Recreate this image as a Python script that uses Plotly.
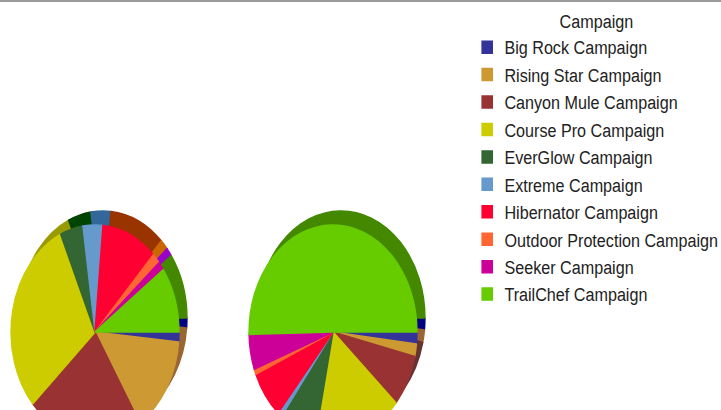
import plotly.graph_objects as go

# ---- data ----
campaigns = ["Big Rock Campaign", "Rising Star Campaign", "Canyon Mule Campaign",
             "Course Pro Campaign", "EverGlow Campaign", "Extreme Campaign",
             "Hibernator Campaign", "Outdoor Protection Campaign", "Seeker Campaign",
             "TrailChef Campaign"]
left_values = [1.5, 14.6, 22.2, 30.0, 4.4, 3.8, 10.7, 1.6, 1.3, 9.9]
right_values = [1.8, 1.9, 7.8, 16.8, 7.2, 0.8, 7.2, 0.8, 5.3, 50.3]

# ---- styles ----
face_colors = ["#333399", "#CC9933", "#993333", "#CCCC00", "#336633",
               "#6699CC", "#FF0033", "#FF6633", "#CC0099", "#66CC00"]
side_colors = ["#000080", "#996633", "#663333", "#999900", "#004400",
               "#336699", "#993300", "#CC6600", "#9900CC", "#448800"]

W, H = 721, 460
R0 = 95          # base circle radius in px (before elliptical scaling)
SX, SY = 84 / R0, 107 / R0
DEPTH_X, DEPTH_Y = 8, -14
NARROW = 0.86    # horizontal condensing of the legend (narrow typeface look)
FONT = "Liberation Sans, Arial, sans-serif"


def dom(cx, cy):
    x = [(cx - R0) / W, (cx + R0) / W]
    y = [(H - (cy + R0)) / H, (H - (cy - R0)) / H]
    return dict(x=x, y=y)


def pie(values, colors, cx, cy, show):
    return go.Pie(labels=campaigns, values=values, sort=False, direction="clockwise",
                  rotation=90, textinfo="none", hoverinfo="label+percent",
                  marker=dict(colors=colors, line=dict(width=1.5, color=colors)),
                  domain=dom(cx, cy), showlegend=show)


fig = go.Figure()
fig.add_trace(pie(left_values, side_colors, 95 + DEPTH_X, 332 + DEPTH_Y, False))
fig.add_trace(pie(right_values, side_colors, 333 + DEPTH_X, 332 + DEPTH_Y, False))
fig.add_trace(pie(left_values, face_colors, 95, 332, True))
fig.add_trace(pie(right_values, face_colors, 333, 332, False))

fig.update_layout(
    width=W, height=H,
    margin=dict(l=0, r=0, t=0, b=0, autoexpand=False),
    paper_bgcolor="white", plot_bgcolor="white",
    font=dict(family=FONT, color="#222222"),
    legend=dict(
        x=470 / W, xanchor="left", y=1 - 4 / H, yanchor="top",
        font=dict(family=FONT, size=18.8, color="#222222"),
        title=dict(text="Campaign", side="top center", font=dict(family=FONT, size=18.8)),
        traceorder="normal", bgcolor="rgba(0,0,0,0)",
    ),
    shapes=[dict(type="line", xref="paper", yref="paper", x0=0, x1=1, y0=1, y1=1,
                 line=dict(color="#9a9a9a", width=4))],
)

post = """
document.documentElement.style.overflow='hidden';
document.body.style.overflow='hidden';
document.body.style.margin='0';
var gd = document.getElementById('{plot_id}');
gd.querySelectorAll('.pielayer g.trace').forEach(function(g){
  var b = g.getBBox();
  var cx = b.x + b.width/2, cy = b.y + b.height/2;
  g.setAttribute('transform', 'translate('+cx+','+cy+') scale(%f,%f) translate('+(-cx)+','+(-cy)+')');
});
var leg = gd.querySelector('g.legend');
if (leg) {
  leg.setAttribute('transform', (leg.getAttribute('transform') || '') + ' scale(%f,1)');
}
""" % (SX, SY, NARROW)

fig.write_html("out.html", post_script=post, config={"displayModeBar": False})
